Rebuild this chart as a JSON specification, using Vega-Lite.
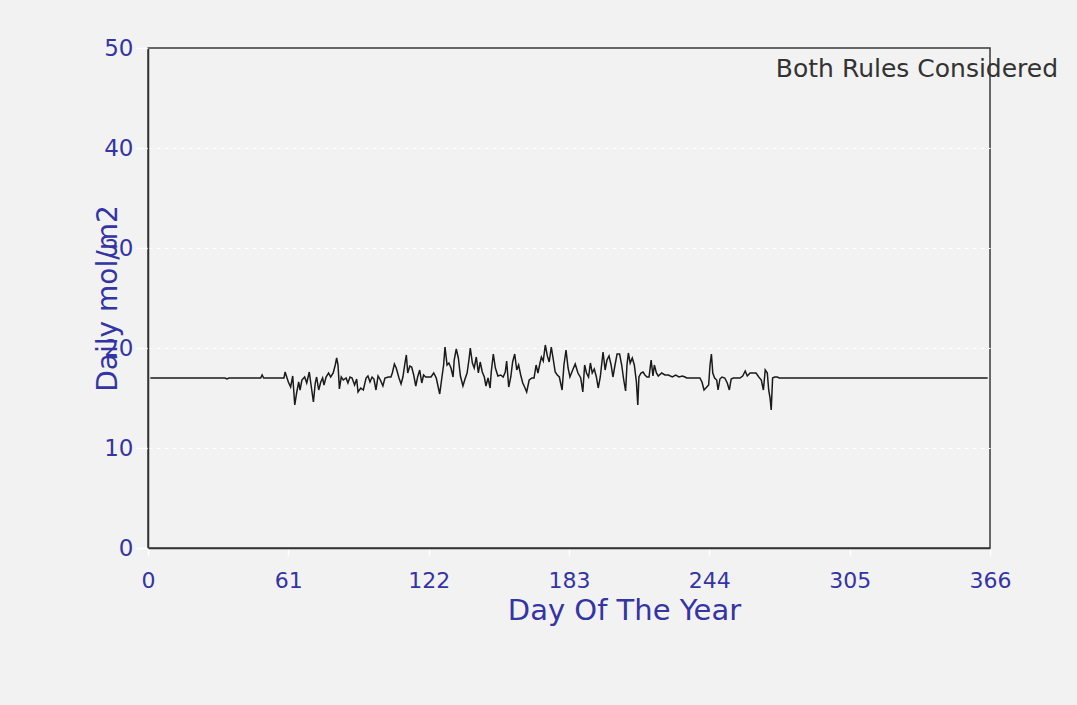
{
  "$schema": "https://vega.github.io/schema/vega-lite/v6.json",
  "width": 842,
  "height": 500,
  "autosize": {"type": "none"},
  "padding": {"left": 148, "top": 48, "right": 87, "bottom": 157},
  "background": "#f2f2f2",
  "config": {
    "font": "DejaVu Sans",
    "view": {"stroke": "#3a3a3a", "strokeWidth": 1.5}
  },
  "layer": [
    {
      "data": {
        "values": [
          {"day": 1, "mol": 17.0}, {"day": 33.5, "mol": 17.0}, {"day": 34.3, "mol": 16.9}, {"day": 35.2, "mol": 17.0},
          {"day": 49.0, "mol": 17.0}, {"day": 49.6, "mol": 17.3}, {"day": 50.3, "mol": 17.0},
          {"day": 59.1, "mol": 17.0}, {"day": 59.6, "mol": 17.6}, {"day": 61.0, "mol": 16.6}, {"day": 62.0, "mol": 16.1},
          {"day": 62.9, "mol": 17.2}, {"day": 63.8, "mol": 14.3}, {"day": 64.6, "mol": 15.5}, {"day": 65.5, "mol": 16.6},
          {"day": 66.1, "mol": 15.8}, {"day": 66.9, "mol": 16.8}, {"day": 68.1, "mol": 17.1}, {"day": 69.0, "mol": 16.5},
          {"day": 70.1, "mol": 17.6}, {"day": 71.0, "mol": 16.1}, {"day": 71.9, "mol": 14.6}, {"day": 72.7, "mol": 16.5},
          {"day": 73.3, "mol": 17.1}, {"day": 74.2, "mol": 15.8}, {"day": 75.1, "mol": 16.6}, {"day": 75.9, "mol": 17.0},
          {"day": 76.5, "mol": 16.3}, {"day": 77.4, "mol": 17.1}, {"day": 78.5, "mol": 17.5}, {"day": 79.4, "mol": 17.1},
          {"day": 80.5, "mol": 17.5}, {"day": 81.4, "mol": 18.3}, {"day": 82.0, "mol": 19.0}, {"day": 82.6, "mol": 18.3},
          {"day": 83.2, "mol": 15.9}, {"day": 84.0, "mol": 17.1}, {"day": 84.9, "mol": 16.8}, {"day": 86.1, "mol": 17.0},
          {"day": 86.9, "mol": 16.5}, {"day": 87.8, "mol": 17.1}, {"day": 88.7, "mol": 17.0}, {"day": 89.8, "mol": 16.3},
          {"day": 90.7, "mol": 16.9}, {"day": 91.3, "mol": 15.6}, {"day": 92.5, "mol": 16.0}, {"day": 93.6, "mol": 15.8},
          {"day": 94.8, "mol": 17.0}, {"day": 95.6, "mol": 17.2}, {"day": 96.5, "mol": 16.6}, {"day": 97.4, "mol": 17.1},
          {"day": 98.2, "mol": 16.9}, {"day": 99.1, "mol": 15.8}, {"day": 100.0, "mol": 17.2}, {"day": 101.0, "mol": 16.8},
          {"day": 102.1, "mol": 16.2}, {"day": 103.0, "mol": 17.0}, {"day": 104.5, "mol": 17.1}, {"day": 105.6, "mol": 17.1},
          {"day": 106.2, "mol": 17.5}, {"day": 107.1, "mol": 18.4}, {"day": 107.9, "mol": 18.0}, {"day": 109.1, "mol": 17.0},
          {"day": 110.0, "mol": 16.4}, {"day": 110.8, "mol": 17.1}, {"day": 111.7, "mol": 18.5}, {"day": 112.3, "mol": 19.3},
          {"day": 112.9, "mol": 17.5}, {"day": 113.8, "mol": 18.2}, {"day": 114.6, "mol": 18.1}, {"day": 115.5, "mol": 17.3},
          {"day": 116.4, "mol": 16.2}, {"day": 117.2, "mol": 17.1}, {"day": 118.1, "mol": 17.8}, {"day": 119.0, "mol": 16.5},
          {"day": 119.8, "mol": 17.3}, {"day": 120.7, "mol": 17.1}, {"day": 121.8, "mol": 17.1}, {"day": 123.0, "mol": 17.1},
          {"day": 124.2, "mol": 17.5}, {"day": 125.3, "mol": 17.0}, {"day": 126.8, "mol": 15.4}, {"day": 127.6, "mol": 16.8},
          {"day": 128.5, "mol": 18.3}, {"day": 129.1, "mol": 20.1}, {"day": 130.0, "mol": 18.3}, {"day": 130.8, "mol": 18.5},
          {"day": 131.7, "mol": 18.0}, {"day": 132.6, "mol": 17.1}, {"day": 133.1, "mol": 18.8}, {"day": 134.0, "mol": 19.9},
          {"day": 134.9, "mol": 19.0}, {"day": 135.8, "mol": 17.2}, {"day": 136.9, "mol": 16.2}, {"day": 137.8, "mol": 16.9},
          {"day": 138.7, "mol": 17.5}, {"day": 139.5, "mol": 18.8}, {"day": 140.1, "mol": 20.0}, {"day": 141.0, "mol": 18.5},
          {"day": 141.8, "mol": 18.0}, {"day": 142.7, "mol": 19.1}, {"day": 143.6, "mol": 17.5}, {"day": 144.4, "mol": 18.6},
          {"day": 145.3, "mol": 17.6}, {"day": 146.2, "mol": 17.1}, {"day": 146.9, "mol": 16.2}, {"day": 147.8, "mol": 17.0},
          {"day": 148.7, "mol": 16.0}, {"day": 149.2, "mol": 17.6}, {"day": 150.1, "mol": 19.4}, {"day": 151.0, "mol": 18.0},
          {"day": 152.1, "mol": 17.2}, {"day": 153.3, "mol": 17.3}, {"day": 154.4, "mol": 17.1}, {"day": 155.3, "mol": 17.6},
          {"day": 155.9, "mol": 18.7}, {"day": 156.8, "mol": 16.1}, {"day": 157.7, "mol": 17.1}, {"day": 158.5, "mol": 18.6},
          {"day": 159.4, "mol": 19.4}, {"day": 160.3, "mol": 17.8}, {"day": 161.1, "mol": 18.3}, {"day": 162.0, "mol": 17.3},
          {"day": 162.9, "mol": 16.5}, {"day": 163.7, "mol": 16.1}, {"day": 164.6, "mol": 15.6}, {"day": 165.7, "mol": 16.8},
          {"day": 166.9, "mol": 17.0}, {"day": 167.8, "mol": 17.0}, {"day": 168.7, "mol": 18.3}, {"day": 169.5, "mol": 17.5},
          {"day": 170.4, "mol": 18.5}, {"day": 171.0, "mol": 19.1}, {"day": 171.8, "mol": 18.7}, {"day": 172.7, "mol": 20.3},
          {"day": 173.6, "mol": 19.2}, {"day": 174.4, "mol": 18.6}, {"day": 175.3, "mol": 20.1}, {"day": 176.2, "mol": 18.8},
          {"day": 177.0, "mol": 17.6}, {"day": 177.9, "mol": 17.3}, {"day": 178.8, "mol": 17.1}, {"day": 180.0, "mol": 15.8},
          {"day": 180.8, "mol": 18.3}, {"day": 181.7, "mol": 19.8}, {"day": 182.6, "mol": 18.0}, {"day": 183.4, "mol": 17.1},
          {"day": 184.6, "mol": 17.8}, {"day": 185.7, "mol": 18.4}, {"day": 186.9, "mol": 17.5}, {"day": 188.1, "mol": 17.0},
          {"day": 189.0, "mol": 15.6}, {"day": 189.8, "mol": 18.3}, {"day": 190.6, "mol": 17.5}, {"day": 191.5, "mol": 17.1},
          {"day": 192.3, "mol": 18.5}, {"day": 193.1, "mol": 17.5}, {"day": 194.0, "mol": 17.9}, {"day": 194.9, "mol": 17.1},
          {"day": 195.7, "mol": 16.0}, {"day": 196.6, "mol": 17.1}, {"day": 197.8, "mol": 19.6}, {"day": 198.7, "mol": 17.8},
          {"day": 199.5, "mol": 18.8}, {"day": 200.4, "mol": 19.2}, {"day": 201.3, "mol": 18.3}, {"day": 202.1, "mol": 17.1},
          {"day": 203.0, "mol": 18.3}, {"day": 203.9, "mol": 19.4}, {"day": 205.0, "mol": 19.4}, {"day": 205.9, "mol": 18.3},
          {"day": 206.8, "mol": 16.8}, {"day": 207.6, "mol": 15.7}, {"day": 208.2, "mol": 18.3}, {"day": 208.8, "mol": 19.5},
          {"day": 209.6, "mol": 18.5}, {"day": 210.5, "mol": 19.0}, {"day": 211.4, "mol": 18.3}, {"day": 212.3, "mol": 16.6},
          {"day": 212.9, "mol": 14.3}, {"day": 213.4, "mol": 17.1}, {"day": 214.3, "mol": 17.5}, {"day": 215.2, "mol": 17.6},
          {"day": 216.0, "mol": 17.3}, {"day": 216.9, "mol": 17.1}, {"day": 217.8, "mol": 17.1}, {"day": 218.7, "mol": 18.8},
          {"day": 219.5, "mol": 17.2}, {"day": 220.1, "mol": 18.3}, {"day": 221.0, "mol": 17.5}, {"day": 221.8, "mol": 17.2},
          {"day": 223.3, "mol": 17.5}, {"day": 224.7, "mol": 17.3}, {"day": 226.2, "mol": 17.3}, {"day": 227.9, "mol": 17.1},
          {"day": 229.4, "mol": 17.3}, {"day": 230.8, "mol": 17.1}, {"day": 232.3, "mol": 17.2}, {"day": 233.4, "mol": 17.1},
          {"day": 234.2, "mol": 17.0}, {"day": 239.9, "mol": 17.0}, {"day": 240.8, "mol": 16.6}, {"day": 241.7, "mol": 15.8},
          {"day": 242.9, "mol": 16.1}, {"day": 243.7, "mol": 16.3}, {"day": 244.3, "mol": 18.3}, {"day": 244.9, "mol": 19.4},
          {"day": 245.5, "mol": 17.5}, {"day": 246.3, "mol": 17.0}, {"day": 247.2, "mol": 16.8}, {"day": 247.8, "mol": 15.8},
          {"day": 248.6, "mol": 16.9}, {"day": 249.5, "mol": 17.1}, {"day": 250.7, "mol": 17.0}, {"day": 251.8, "mol": 16.5},
          {"day": 252.7, "mol": 15.8}, {"day": 253.5, "mol": 16.9}, {"day": 254.4, "mol": 17.0}, {"day": 257.3, "mol": 17.0},
          {"day": 258.5, "mol": 17.2}, {"day": 259.6, "mol": 17.7}, {"day": 260.5, "mol": 17.2}, {"day": 261.7, "mol": 17.5},
          {"day": 263.1, "mol": 17.5}, {"day": 264.3, "mol": 17.5}, {"day": 265.5, "mol": 17.1}, {"day": 266.6, "mol": 16.8},
          {"day": 267.5, "mol": 15.8}, {"day": 268.3, "mol": 17.8}, {"day": 269.2, "mol": 17.5}, {"day": 269.8, "mol": 15.8},
          {"day": 270.4, "mol": 15.0}, {"day": 270.9, "mol": 13.8}, {"day": 271.5, "mol": 17.0}, {"day": 272.4, "mol": 17.1},
          {"day": 273.5, "mol": 17.1}, {"day": 274.4, "mol": 17.0}, {"day": 365, "mol": 17.0}
        ]
      },
      "mark": {"type": "line", "color": "#1a1a1a", "strokeWidth": 1.5},
      "encoding": {
        "x": {
          "field": "day",
          "type": "quantitative",
          "scale": {"domain": [0, 366], "nice": false, "zero": false},
          "axis": {
            "values": [0, 61, 122, 183, 244, 305, 366],
            "title": "Day Of The Year",
            "grid": false,
            "domainColor": "#333333",
            "domainWidth": 1.5,
            "tickColor": "#ffffff",
            "tickSize": 8,
            "tickWidth": 1.5,
            "labelColor": "#3434a4",
            "labelFont": "DejaVu Sans",
            "labelFontSize": 22,
            "labelPadding": 14,
            "labelFlush": false,
            "labelOverlap": false,
            "titleColor": "#3434a4",
            "titleFont": "DejaVu Sans",
            "titleFontSize": 29,
            "titleFontWeight": "normal",
            "titleAlign": "center",
            "titleBaseline": "alphabetic",
            "titleX": 476,
            "titleY": 71
          }
        },
        "y": {
          "field": "mol",
          "type": "quantitative",
          "scale": {"domain": [0, 50], "nice": false},
          "axis": {
            "values": [0, 10, 20, 30, 40, 50],
            "title": "Daily mol/m2",
            "grid": true,
            "gridColor": "#ffffff",
            "gridDash": [4, 4],
            "gridWidth": 1,
            "gridOpacity": {"condition": {"test": "datum.value === 0 || datum.value === 50", "value": 0}, "value": 1},
            "domainColor": "#333333",
            "domainWidth": 1.5,
            "tickColor": "#ffffff",
            "tickSize": 12,
            "tickWidth": 1.5,
            "labelColor": "#3434a4",
            "labelFont": "DejaVu Sans",
            "labelFontSize": 23,
            "labelPadding": 3,
            "labelFlush": false,
            "labelOverlap": false,
            "titleColor": "#3434a4",
            "titleFont": "DejaVu Sans",
            "titleFontSize": 28,
            "titleFontWeight": "normal",
            "titleAngle": -90,
            "titleAlign": "center",
            "titleBaseline": "alphabetic",
            "titleX": -32,
            "titleY": 250
          }
        }
      }
    },
    {
      "data": {"values": [{"note": "Both Rules Considered"}]},
      "mark": {
        "type": "text",
        "align": "right",
        "baseline": "alphabetic",
        "font": "DejaVu Sans",
        "fontSize": 25,
        "color": "#333333"
      },
      "encoding": {
        "x": {"datum": 395.6, "type": "quantitative"},
        "y": {"datum": 47.1, "type": "quantitative"},
        "text": {"field": "note", "type": "nominal"}
      }
    }
  ]
}
